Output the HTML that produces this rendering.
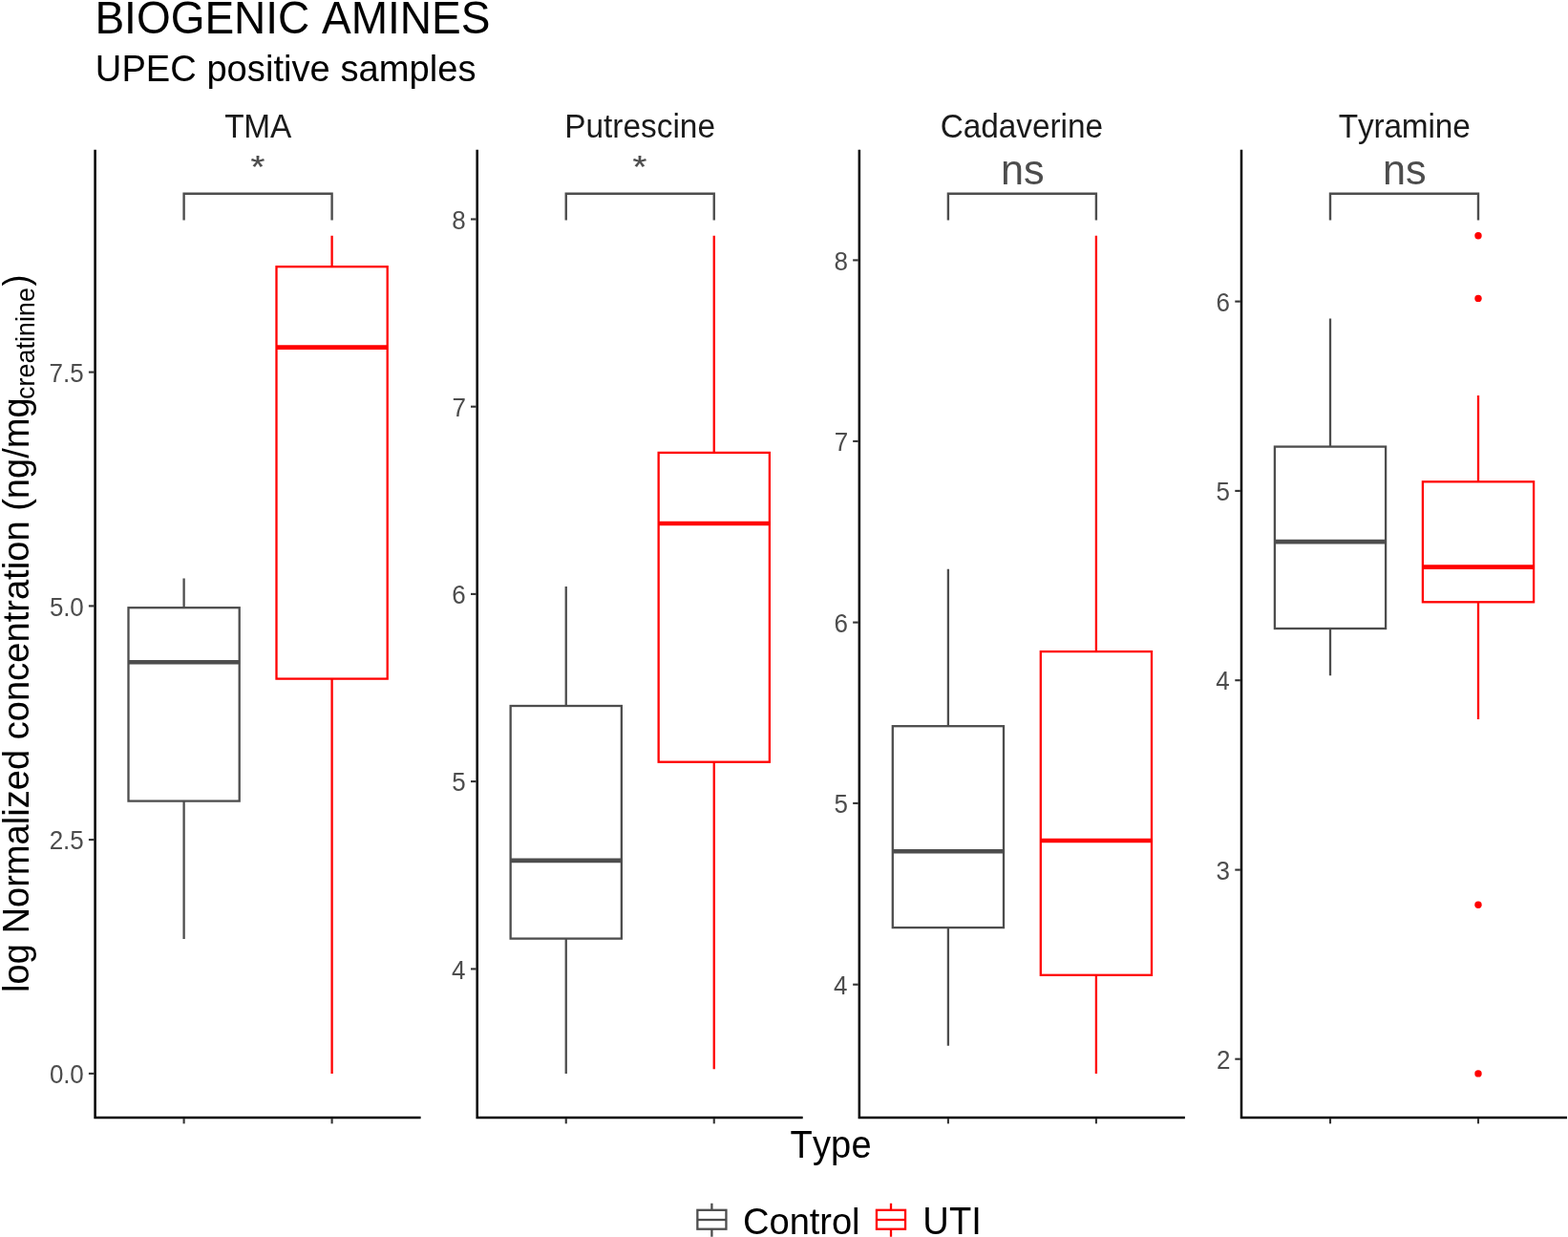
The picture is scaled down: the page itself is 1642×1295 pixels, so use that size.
<!DOCTYPE html>
<html lang="en">
<head>
<meta charset="utf-8">
<title>BIOGENIC AMINES - UPEC positive samples</title>
<style>
html,body{margin:0;padding:0;background:#ffffff;}
body{width:1642px;height:1295px;overflow:hidden;}
svg{display:block;}
text{font-family:"Liberation Sans", Arial, Helvetica, sans-serif;font-kerning:none;}
.title{font-size:46px;fill:#000;}
.sub{font-size:38.1px;fill:#000;}
.strip{font-size:33.4px;fill:#1a1a1a;}
.tl{font-size:26px;fill:#4D4D4D;}
.axt{font-size:38.1px;fill:#000;}
.axs{font-size:26.7px;fill:#000;}
.leg{font-size:38.1px;fill:#000;}
.star{font-size:38.2px;fill:#4D4D4D;stroke:#4D4D4D;stroke-width:0.25px;text-anchor:middle;}
.ns{font-size:43.2px;fill:#4D4D4D;text-anchor:middle;}
.g{stroke:#4D4D4D;fill:none;}
.r{stroke:#FF0000;fill:none;}
.b{stroke-width:2.3;}
.m{stroke-width:4.6;}
.ax{stroke:#000000;stroke-width:2.5;fill:none;}
.tk{stroke:#333333;stroke-width:2.1;fill:none;}
.br{stroke:#4D4D4D;stroke-width:2.4;fill:none;}
</style>
</head>
<body>
<svg width="1642" height="1295" viewBox="0 0 1642 1295">
<rect x="0" y="0" width="1642" height="1295" fill="#ffffff"/>

<text class="title" transform="translate(99.45,34.75) scale(1,1.05)" style="letter-spacing:-0.01px">BIOGENIC AMINES</text>
<text class="sub" transform="translate(99.85,85.1) scale(1,1.04)" style="letter-spacing:0.03px">UPEC positive samples</text>
<g transform="translate(0,1036.4) rotate(-90)">
<text class="axt" transform="translate(-2.62,29.55) scale(1,1.04)" style="letter-spacing:0.01px">log Normalized concentration (ng/mg</text>
<text class="axs" transform="translate(618.38,36) scale(1,1.03)" style="letter-spacing:0.12px">creatinine</text>
<text class="axt" transform="translate(736.97,29.55) scale(0.94,1.04)">)</text>
</g>
<text class="axt" transform="translate(827.62,1211.6) scale(1,1.045)" style="letter-spacing:0.09px">Type</text>
<g>
<text class="strip" transform="translate(235.15,144) scale(1,1.055)" style="letter-spacing:-0.24px">TMA</text>
<path class="tk" d="M92.9 1123.9H98.4"/>
<text class="tl" transform="translate(51.9,1134) scale(1,1.05)" style="letter-spacing:-0.21px">0.0</text>
<path class="tk" d="M92.9 879.1H98.4"/>
<text class="tl" transform="translate(51.65,889.2) scale(1,1.05)" style="letter-spacing:-0.02px">2.5</text>
<path class="tk" d="M92.9 634.4H98.4"/>
<text class="tl" transform="translate(51.9,644.5) scale(1,1.05)" style="letter-spacing:-0.21px">5.0</text>
<path class="tk" d="M92.9 389.6H98.4"/>
<text class="tl" transform="translate(51.52,399.7) scale(1,1.05)" style="letter-spacing:0.04px">7.5</text>
<path class="tk" d="M192.6 1171.15V1176.35"/>
<path class="tk" d="M347.6 1171.15V1176.35"/>
<path class="g b" d="M192.6 605.6V636.2M192.6 838.6V983"/>
<rect class="g b" x="134.5" y="636.2" width="116.2" height="202.4"/>
<path class="g m" d="M134.5 693.2H250.7"/>
<path class="r b" d="M347.6 246.8V279.2M347.6 710.6V1123.9"/>
<rect class="r b" x="289.5" y="279.2" width="116.2" height="431.4"/>
<path class="r m" d="M289.5 363.6H405.7"/>
<path class="br" d="M192.6 230.4V202.7H347.6V230.4"/>
<text class="star" transform="translate(269.9,186.1) scale(1,0.88)">*</text>
<path class="ax" d="M99.6 156.7V1169.95H440.6"/>
</g>
<g>
<text class="strip" transform="translate(591.25,144.2) scale(1,1.03)">Putrescine</text>
<path class="tk" d="M493 1014.4H498.5"/>
<text class="tl" transform="translate(472.95,1024.5) scale(1,1.05)">4</text>
<path class="tk" d="M493 818.1H498.5"/>
<text class="tl" transform="translate(473.32,828.2) scale(1,1.05)">5</text>
<path class="tk" d="M493 621.9H498.5"/>
<text class="tl" transform="translate(473.32,632) scale(1,1.05)">6</text>
<path class="tk" d="M493 425.7H498.5"/>
<text class="tl" transform="translate(473.57,435.8) scale(1,1.05)">7</text>
<path class="tk" d="M493 229.5H498.5"/>
<text class="tl" transform="translate(473.32,239.6) scale(1,1.05)">8</text>
<path class="tk" d="M592.75 1171.15V1176.35"/>
<path class="tk" d="M747.75 1171.15V1176.35"/>
<path class="g b" d="M592.75 614.1V739M592.75 982.6V1123.9"/>
<rect class="g b" x="534.65" y="739" width="116.2" height="243.6"/>
<path class="g m" d="M534.65 900.9H650.85"/>
<path class="r b" d="M747.75 246.8V473.9M747.75 797.7V1119.2"/>
<rect class="r b" x="689.65" y="473.9" width="116.2" height="323.8"/>
<path class="r m" d="M689.65 548H805.85"/>
<path class="br" d="M592.75 230.4V202.7H747.75V230.4"/>
<text class="star" transform="translate(670.05,186.1) scale(1,0.88)">*</text>
<path class="ax" d="M499.7 156.7V1169.95H840.7"/>
</g>
<g>
<text class="strip" transform="translate(984.8,144.2) scale(1,1.03)" style="letter-spacing:-0.06px">Cadaverine</text>
<path class="tk" d="M893.15 1030.7H898.65"/>
<text class="tl" transform="translate(873.1,1040.8) scale(1,1.05)">4</text>
<path class="tk" d="M893.15 840.9H898.65"/>
<text class="tl" transform="translate(873.48,851) scale(1,1.05)">5</text>
<path class="tk" d="M893.15 651.6H898.65"/>
<text class="tl" transform="translate(873.48,661.7) scale(1,1.05)">6</text>
<path class="tk" d="M893.15 461.9H898.65"/>
<text class="tl" transform="translate(873.73,472) scale(1,1.05)">7</text>
<path class="tk" d="M893.15 272.4H898.65"/>
<text class="tl" transform="translate(873.48,282.5) scale(1,1.05)">8</text>
<path class="tk" d="M992.9 1171.15V1176.35"/>
<path class="tk" d="M1147.9 1171.15V1176.35"/>
<path class="g b" d="M992.9 595.7V760.2M992.9 971.1V1094.7"/>
<rect class="g b" x="934.8" y="760.2" width="116.2" height="210.9"/>
<path class="g m" d="M934.8 891.2H1051"/>
<path class="r b" d="M1147.9 246.8V682.1M1147.9 1020.8V1123.9"/>
<rect class="r b" x="1089.8" y="682.1" width="116.2" height="338.7"/>
<path class="r m" d="M1089.8 880H1206"/>
<path class="br" d="M992.9 230.4V202.7H1147.9V230.4"/>
<text class="ns" transform="translate(1070.7,193.2) scale(1,1.02)">ns</text>
<path class="ax" d="M899.85 156.7V1169.95H1240.85"/>
</g>
<g>
<text class="strip" transform="translate(1401.75,144.2) scale(1,1.03)" style="letter-spacing:-0.17px">Tyramine</text>
<path class="tk" d="M1293.3 1108.7H1298.8"/>
<text class="tl" transform="translate(1273.88,1118.8) scale(1,1.05)">2</text>
<path class="tk" d="M1293.3 910.6H1298.8"/>
<text class="tl" transform="translate(1273.62,920.7) scale(1,1.05)">3</text>
<path class="tk" d="M1293.3 712.2H1298.8"/>
<text class="tl" transform="translate(1273.25,722.3) scale(1,1.05)">4</text>
<path class="tk" d="M1293.3 513.9H1298.8"/>
<text class="tl" transform="translate(1273.62,524) scale(1,1.05)">5</text>
<path class="tk" d="M1293.3 315.6H1298.8"/>
<text class="tl" transform="translate(1273.62,325.7) scale(1,1.05)">6</text>
<path class="tk" d="M1393 1171.15V1176.35"/>
<path class="tk" d="M1548 1171.15V1176.35"/>
<path class="g b" d="M1393 333.6V467.6M1393 658V707.2"/>
<rect class="g b" x="1334.9" y="467.6" width="116.2" height="190.4"/>
<path class="g m" d="M1334.9 567.1H1451.1"/>
<path class="r b" d="M1548 414V504.3M1548 630.3V752.9"/>
<rect class="r b" x="1489.9" y="504.3" width="116.2" height="126"/>
<path class="r m" d="M1489.9 593.6H1606.1"/>
<circle cx="1548" cy="246.7" r="3.7" fill="#FF0000"/>
<circle cx="1548" cy="312.4" r="3.7" fill="#FF0000"/>
<circle cx="1548" cy="947.2" r="3.7" fill="#FF0000"/>
<circle cx="1548" cy="1123.9" r="3.7" fill="#FF0000"/>
<path class="br" d="M1393 230.4V202.7H1548V230.4"/>
<text class="ns" transform="translate(1470.8,193.2) scale(1,1.02)">ns</text>
<path class="ax" d="M1300 156.7V1169.95H1641"/>
</g>
<g>
<path class="g b" d="M745.4 1259.7V1266.8M745.4 1286.7V1294.7"/><rect class="g b" x="730.35" y="1266.8" width="30.1" height="19.9"/><path class="g b" d="M730.35 1277H760.45"/>
<text class="leg" transform="translate(778.12,1291.6) scale(1,1.04)" style="letter-spacing:-0.06px">Control</text>
<path class="r b" d="M933 1259.7V1266.8M933 1286.7V1294.7"/><rect class="r b" x="917.95" y="1266.8" width="30.1" height="19.9"/><path class="r b" d="M917.95 1277H948.05"/>
<text class="leg" transform="translate(966.35,1291.6) scale(1,1.05)" style="letter-spacing:0.06px">UTI</text>
</g>
</svg>
</body>
</html>
